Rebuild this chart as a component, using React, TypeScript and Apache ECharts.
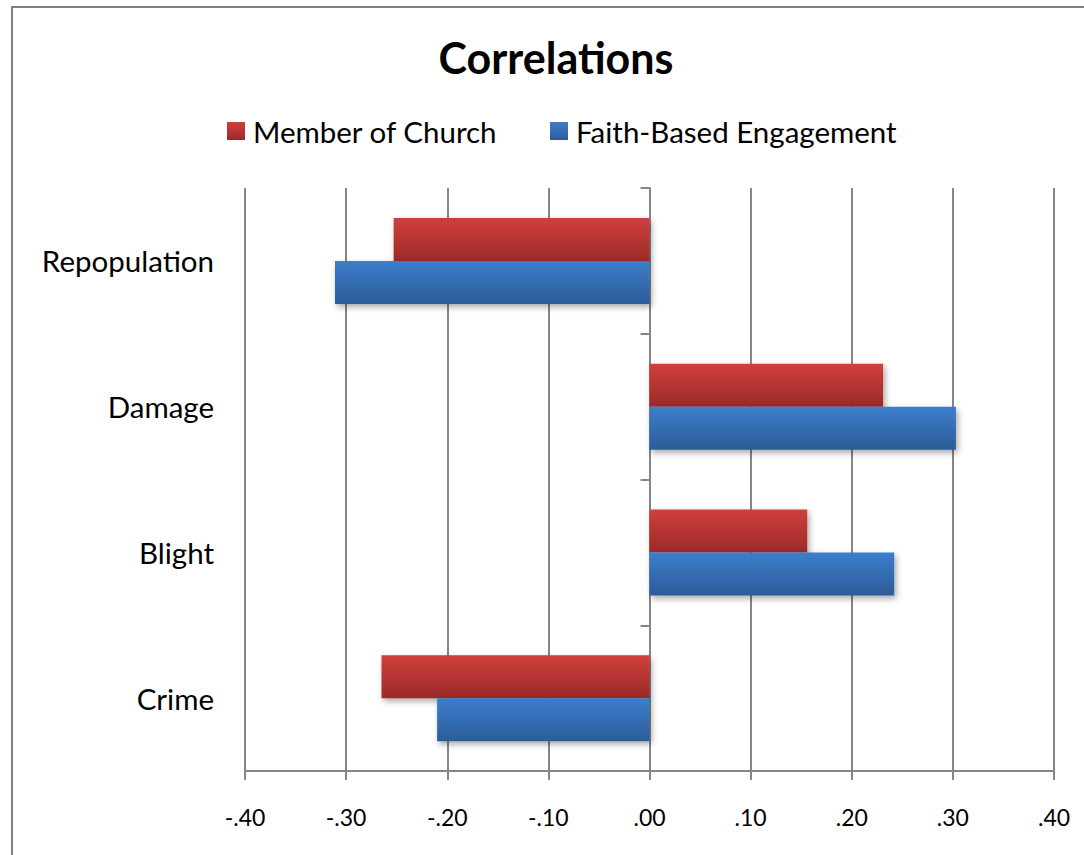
import React, { useEffect, useRef } from "react";
import * as echarts from "echarts";

const categories = ["Crime", "Blight", "Damage", "Repopulation"];
const seriesNames = ["Member of Church", "Faith-Based Engagement"];
const memberOfChurch = [-0.265, 0.156, 0.231, -0.253];
const faithBasedEngagement = [-0.21, 0.242, 0.303, -0.311];
const axisMin = -0.4;
const axisMax = 0.4;
const axisInterval = 0.1;

const FONT = "Lato, 'Open Sans', sans-serif";
const GRID_COLOR = "#868686";

function fmt(v: number): string {
  if (Math.abs(v) < 1e-9) return ".00";
  const s = Math.abs(v).toFixed(2).replace(/^0/, "");
  return (v < 0 ? "-" : "") + s;
}

const redGrad = new echarts.graphic.LinearGradient(0, 0, 0, 1, [
  { offset: 0, color: "#d13f3c" },
  { offset: 1, color: "#9b2a28" },
]);
const blueGrad = new echarts.graphic.LinearGradient(0, 0, 0, 1, [
  { offset: 0, color: "#3c7ecc" },
  { offset: 1, color: "#2c5c98" },
]);

export default function App() {
  const ref = useRef<HTMLDivElement>(null);
  useEffect(() => {
    if (!ref.current) return;
    const chart = echarts.init(ref.current, null, { renderer: "svg" });
    const legendCommon = {
      top: 111,
      itemWidth: 18,
      itemHeight: 18,
      icon: "rect",
      textStyle: { fontSize: 29.5, fontFamily: FONT, color: "#000", padding: [0, 0, 0, 3] },
    };
    chart.setOption({
      animation: false,
      backgroundColor: "#fff",
      title: {
        text: "Correlations",
        left: 551,
        textAlign: "center",
        top: 31,
        textStyle: { fontSize: 43, fontWeight: "bold", fontFamily: FONT, color: "#000" },
      },
      legend: [
        { ...legendCommon, data: [seriesNames[0]], left: 222 },
        { ...legendCommon, data: [seriesNames[1]], left: 545 },
      ],
      grid: { left: 245, right: 30, top: 188, bottom: 84, containLabel: false },
      xAxis: {
        type: "value",
        min: axisMin,
        max: axisMax,
        interval: axisInterval,
        axisLine: { show: true, onZero: false, lineStyle: { color: GRID_COLOR, width: 2 } },
        axisTick: { show: true, length: 9, lineStyle: { color: GRID_COLOR, width: 2 } },
        splitLine: { show: true, lineStyle: { color: GRID_COLOR, width: 2 } },
        axisLabel: {
          formatter: (v: number) => fmt(v),
          fontSize: 23,
          fontFamily: FONT,
          color: "#000",
          margin: 34,
        },
      },
      yAxis: [
        {
          type: "category",
          data: categories,
          position: "left",
          axisLine: { show: false, onZero: false },
          axisTick: { show: false },
          axisLabel: { fontSize: 29.5, fontFamily: FONT, color: "#000", margin: 31 },
        },
        {
          type: "category",
          data: categories,
          axisLine: { show: true, onZero: true, lineStyle: { color: GRID_COLOR, width: 2 } },
          axisTick: { show: true, inside: true, length: 9, lineStyle: { color: GRID_COLOR, width: 2 } },
          axisLabel: { show: false },
        },
      ],
      series: [
        {
          name: seriesNames[0],
          type: "bar",
          yAxisIndex: 0,
          data: memberOfChurch,
          barWidth: 43,
          barGap: "0%",
          itemStyle: {
            color: redGrad,
            shadowColor: "rgba(0,0,0,0.35)",
            shadowBlur: 6,
            shadowOffsetX: 2,
            shadowOffsetY: 3,
          },
        },
        {
          name: seriesNames[1],
          type: "bar",
          yAxisIndex: 0,
          data: faithBasedEngagement,
          barWidth: 43,
          barGap: "0%",
          itemStyle: {
            color: blueGrad,
            shadowColor: "rgba(0,0,0,0.35)",
            shadowBlur: 6,
            shadowOffsetX: 2,
            shadowOffsetY: 3,
          },
        },
      ],
      graphic: [
        {
          type: "rect",
          shape: { x: 12, y: 7, width: 1200, height: 1000 },
          style: { fill: "none", stroke: "#7f7f7f", lineWidth: 2 },
          silent: true,
          z: 100,
        },
      ],
    });
    return () => chart.dispose();
  }, []);
  return (
    <div
      ref={ref}
      style={{ position: "absolute", left: 0, top: 0, width: 1084, height: 855 }}
    />
  );
}
